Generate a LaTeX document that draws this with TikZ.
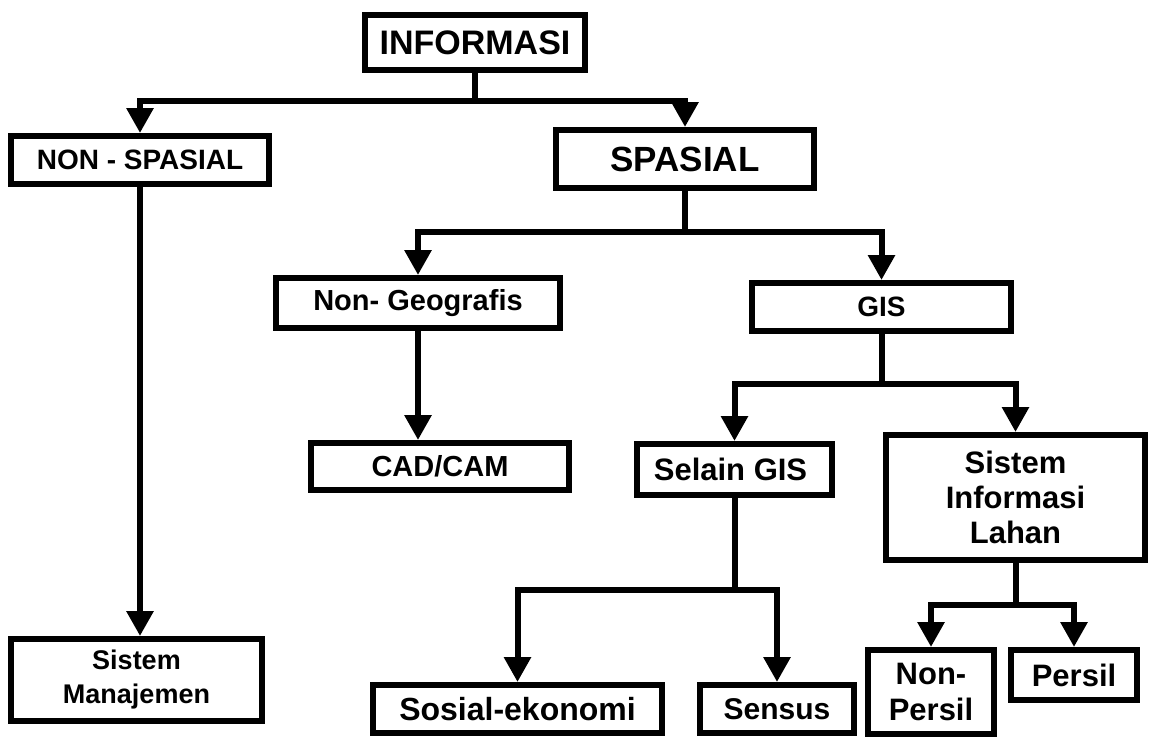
\documentclass[tikz,border=0pt]{standalone}
\usepackage{fontspec}
\setmainfont{Liberation Sans}
\usetikzlibrary{arrows.meta}
\begin{document}
\begin{tikzpicture}[x=1pt,y=-1pt,
  box/.style={draw=black, line width=6pt, fill=white, inner sep=0pt, align=center, font=\bfseries},
  arr/.style={draw=black, line width=6pt, -{Triangle[length=25pt,width=26pt]}},
  ln/.style={draw=black, line width=6pt}]
\useasboundingbox (0,0) rectangle (1155,737);
\fill[white] (0,0) rectangle (1155,737);

\node[box, minimum width=220pt, minimum height=55pt, font=\bfseries\fontsize{34}{37}\selectfont] (info) at (475,42.5) {INFORMASI};
\node[box, minimum width=258pt, minimum height=48pt, font=\bfseries\fontsize{28}{31}\selectfont] (nonsp) at (140,160) {NON - SPASIAL};
\node[box, minimum width=258pt, minimum height=58pt, font=\bfseries\fontsize{35}{38}\selectfont] (sp) at (685,159) {SPASIAL};
\node[box, minimum width=284pt, minimum height=50pt, font=\bfseries\fontsize{29}{32}\selectfont] (ng) at (418,303) {Non- Geografis};
\node[box, minimum width=259pt, minimum height=48pt, font=\bfseries\fontsize{28}{31}\selectfont] (gis) at (881.5,307) {GIS};
\node[box, minimum width=258pt, minimum height=47pt, font=\bfseries\fontsize{29}{32}\selectfont] (cad) at (440,466.5) {CAD/CAM};
\node[box, minimum width=195pt, minimum height=51pt, font=\bfseries\fontsize{31}{34}\selectfont] (sel) at (734.5,469.5) {Selain GIS\hspace*{8pt}};
\node[box, minimum width=259pt, minimum height=125pt, font=\bfseries\fontsize{31}{35}\selectfont] (sil) at (1015.5,497.5) {Sistem\\Informasi\\Lahan};
\node[box, minimum width=289pt, minimum height=48pt, font=\bfseries\fontsize{32}{35}\selectfont] (sos) at (517.5,709) {Sosial-ekonomi};
\node[box, minimum width=154pt, minimum height=48pt, font=\bfseries\fontsize{30}{33}\selectfont] (sen) at (777,709) {Sensus};
\node[box, minimum width=126pt, minimum height=84pt, font=\bfseries\fontsize{31}{36}\selectfont] (np) at (931,692) {Non-\\Persil};
\node[box, minimum width=126pt, minimum height=50pt, font=\bfseries\fontsize{31}{34}\selectfont] (per) at (1074,675) {Persil};
\node[box, minimum width=251pt, minimum height=82pt, font=\bfseries\fontsize{27}{34}\selectfont] (sm) at (136.5,680) {Sistem\\Manajemen};

\coordinate (j1) at (475,101);
\coordinate (j2) at (685,232);
\coordinate (j3) at (881.5,384);
\coordinate (j4) at (734.5,590);
\coordinate (j5) at (1015.5,605);

\draw[ln] (info.south) -- (j1);
\draw[arr] (j1) -| (nonsp.north);
\draw[arr] (j1) -| (sp.north);

\draw[ln] (sp.south) -- (j2);
\draw[arr] (j2) -| (ng.north);
\draw[arr] (j2) -| (gis.north);

\draw[arr] (ng.south) -- (ng.south |- cad.north);

\draw[ln] (gis.south) -- (j3);
\draw[arr] (j3) -| (sel.north);
\draw[arr] (j3) -| (sil.north);

\draw[ln] (sel.south) -- (j4);
\draw[arr] (j4) -| (sos.north);
\draw[arr] (j4) -| (sen.north);

\draw[ln] (sil.south) -- (j5);
\draw[arr] (j5) -| (np.north);
\draw[arr] (j5) -| (per.north);

\draw[arr] (nonsp.south) -- (nonsp.south |- sm.north);
\end{tikzpicture}
\end{document}
